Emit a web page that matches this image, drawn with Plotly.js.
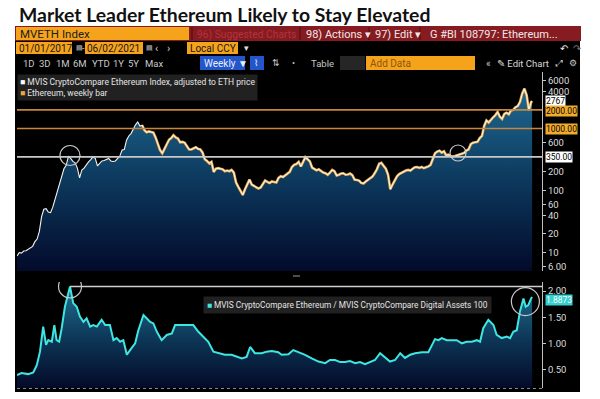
<!DOCTYPE html>
<html><head><meta charset="utf-8">
<script src="https://cdn.plot.ly/plotly-3.0.1.min.js"></script>
<style>html,body{margin:0;padding:0;background:#fff}#chart{width:600px;height:399px}</style>
</head><body><div id="chart"></div>
<script>
// ---------------- DATA ----------------
const startDate = '2017-01-01';
const lastDate = '2021-06-02';
const axisEnd = '2021-07-03';
const weeklyBarStart = '2018-01-28';

// MVIS CryptoCompare Ethereum Index (adjusted to ETH price), weekly, from 2017-01-01
const eth2017 = [8.8,10.0,9.8,10.6,10.7,11.4,12.0,12.6,15.0,16.5,22,38,50,51,45,44,54,72,92,125,168,225,255,355,330,295,280,230,160,215,230,262,290,315,350,330,250,275,300,305,320,330,300,295,300,330,360,450,460,650,760,830,980];
const eth2018 = [1150,1280,1100,1130,940,870,900,880,860,720,560,450,400,470,540,660,700,780,720,690,600,610,590,520,460,460,480,500,470,460,410,320,300,275,290,200,225,230,225,220,205,210,205,215,195,135,115,100,85,105,128,150];
const eth2019 = [125,118,115,108,112,125,145,138,132,140,138,135,160,170,165,175,185,200,240,260,268,290,245,300,345,320,295,235,225,212,220,205,195,190,180,195,215,205,175,180,188,190,180,182,188,178,150,148,145,133,130,140];
const eth2020 = [148,158,168,190,220,270,280,250,225,180,105,125,150,170,185,195,205,210,215,210,225,238,240,232,240,230,238,245,260,320,400,425,440,410,430,370,380,360,355,360,370,380,395,405,440,460,560,590,600,610,700,760];
const eth2021 = [1100,1350,1250,1400,1520,1650,1850,1550,1430,1720,1800,1700,1960,2000,2210,2300,2670,3650,4400,3430,1960,2670];
const lastClose = 2767;

// Horizontal reference levels
const levels = [2000, 1000, 350];
const levelLabels = ['2000.00', '1000.00', '350.00'];

// MVIS CryptoCompare Ethereum / MVIS CryptoCompare Digital Assets 100
const ratioDates = ['2017-01-01','2017-01-15','2017-02-05','2017-02-21','2017-03-04','2017-03-14','2017-03-24','2017-04-02','2017-04-09','2017-04-20','2017-04-28','2017-05-05','2017-05-13','2017-05-21','2017-05-31','2017-06-16','2017-06-26','2017-07-07','2017-07-17','2017-07-28','2017-08-07','2017-08-18','2017-08-28','2017-09-08','2017-09-23','2017-10-04','2017-10-19','2017-10-30','2017-11-09','2017-11-20','2017-11-30','2017-12-11','2017-12-21',
'2018-01-06','2018-01-16','2018-02-01','2018-02-11','2018-02-22','2018-03-04','2018-03-15','2018-03-30','2018-04-15','2018-05-01','2018-05-11','2018-05-27','2018-06-17','2018-07-07','2018-07-23','2018-08-08','2018-08-23','2018-09-08','2018-09-23','2018-10-14','2018-11-04','2018-11-20','2018-12-06','2018-12-21',
'2019-01-01','2019-01-16','2019-02-06','2019-02-22','2019-03-10','2019-03-30','2019-04-10','2019-05-01','2019-05-16','2019-06-01','2019-06-22','2019-07-13','2019-08-03','2019-08-24','2019-09-08','2019-09-24','2019-10-10','2019-10-25','2019-11-10','2019-11-26','2019-12-11','2019-12-27',
'2020-01-12','2020-01-27','2020-02-12','2020-02-28','2020-03-14','2020-03-30','2020-04-15','2020-04-30','2020-05-16','2020-06-01','2020-06-22','2020-07-12','2020-07-23','2020-08-02','2020-08-13','2020-08-23','2020-09-08','2020-09-23','2020-10-09','2020-10-25','2020-11-09','2020-11-25','2020-12-11','2020-12-21','2020-12-31',
'2021-01-16','2021-02-01','2021-02-11','2021-02-27','2021-03-15','2021-03-25','2021-04-04','2021-04-15','2021-04-25','2021-05-06','2021-05-13','2021-05-21','2021-05-30','2021-06-02'];
const ratioValues = [0.39,0.43,0.41,0.44,0.58,0.84,1.32,0.97,1.06,1.03,1.35,1.06,1.03,1.29,1.70,2.09,1.77,1.70,1.51,1.41,1.48,1.32,1.35,1.32,1.45,1.35,1.35,1.06,1.10,1.03,1.06,0.78,0.87,
1.00,1.25,1.54,1.48,1.41,1.38,1.22,1.06,1.16,1.19,1.35,1.35,1.35,1.35,1.22,1.13,1.03,0.84,0.81,0.78,0.78,0.74,0.71,0.74,
0.93,0.81,0.81,0.84,0.85,0.83,0.78,0.79,0.87,0.83,0.78,0.71,0.65,0.62,0.68,0.68,0.64,0.64,0.66,0.62,0.64,0.60,
0.64,0.68,0.81,0.72,0.65,0.68,0.81,0.72,0.78,0.81,0.83,0.83,0.97,1.08,1.06,1.10,1.06,1.06,1.06,1.00,1.03,1.03,1.06,1.03,1.29,
1.45,1.35,1.16,1.10,1.13,1.10,1.22,1.25,1.61,1.86,1.70,1.73,1.86,1.8873];

const yTicks = [6,10,20,40,60,100,200,600,4000,6000];
const yTickText = ['6.00','10','20','40','60','100','200','600','4000','6000'];
const y2Ticks = [0.5,1,1.5,2];
const y2TickText = ['0.50','1.00','1.50','2.00'];

// Highlighted points in the ratio panel (circled)
const ratioCircles = [{date: '2017-06-16', value: 2.09}, {date: '2021-05-12', value: 1.80}];

// ---------------- BUILD ----------------
const W = 600, H = 399;
const px = x => x / W, py = y => 1 - y / H;
const NARROW = '"Liberation Sans Narrow", "Arial Narrow", Roboto, sans-serif';

const ethValues = [].concat(eth2017, eth2018, eth2019, eth2020, eth2021, [lastClose]);
const ethDates = [];
const t0 = Date.UTC(2017, 0, 1);
for (let k = 0; k < ethValues.length - 1; k++) {
  ethDates.push(new Date(t0 + k * 7 * 86400000).toISOString().slice(0, 10));
}
ethDates.push(lastDate);
const barDates = [], barValues = [];
ethDates.forEach((d, i) => { if (d >= weeklyBarStart) { barDates.push(d); barValues.push(ethValues[i]); } });

let peakIdx = 0;
ratioValues.forEach((v, i) => { if (v > ratioValues[peakIdx]) peakIdx = i; });

const traces = [];
traces.push({x: ethDates, y: ethValues, type: 'scatter', mode: 'lines', fill: 'tozeroy',
  line: {width: 0, color: 'rgba(0,0,0,0)'},
  fillgradient: {type: 'vertical', start: 5, stop: 4500,
    colorscale: [[0, '#030a2a'], [0.45, '#0b3458'], [1, '#1f6a93']]},
  xaxis: 'x', yaxis: 'y', hoverinfo: 'skip'});
traces.push({x: barDates, y: barValues, type: 'scatter', mode: 'lines',
  line: {width: 2.6, color: '#e9a53c'}, xaxis: 'x', yaxis: 'y', hoverinfo: 'skip'});
traces.push({x: ethDates, y: ethValues, type: 'scatter', mode: 'lines',
  line: {width: 1.1, color: '#f4f4f0'}, xaxis: 'x', yaxis: 'y', hoverinfo: 'skip'});
const levelColors = ['#c9863a', '#c9863a', '#c8c8c8'];
levels.forEach((lv, i) => traces.push({x: [startDate, axisEnd], y: [lv, lv], type: 'scatter', mode: 'lines',
  line: {width: 1.6, color: levelColors[i]}, xaxis: 'x', yaxis: 'y', hoverinfo: 'skip'}));

traces.push({x: ratioDates, y: ratioValues, type: 'scatter', mode: 'lines', fill: 'tozeroy',
  line: {width: 2, color: '#3ee6e2'},
  fillgradient: {type: 'vertical', start: 0.15, stop: 2.0,
    colorscale: [[0, '#030a28'], [0.5, '#0d3656'], [1, '#1f6a8c']]},
  xaxis: 'x2', yaxis: 'y2', hoverinfo: 'skip'});
traces.push({x: [ratioDates[peakIdx], axisEnd], y: [ratioValues[peakIdx], ratioValues[peakIdx]], type: 'scatter', mode: 'lines',
  line: {width: 1.5, color: '#cfcfcf'}, xaxis: 'x2', yaxis: 'y2', hoverinfo: 'skip'});

// ---------------- LAYOUT DECOR ----------------
const shapes = [];
const ann = [];
function rect(x0, y0, x1, y1, color, layer) {
  shapes.push({type: 'rect', xref: 'paper', yref: 'paper', x0: px(x0), x1: px(x1), y0: py(y1), y1: py(y0),
    fillcolor: color, line: {width: 0}, layer: layer || 'below'});
}
function txt(x, y, text, size, color, opts) {
  ann.push(Object.assign({xref: 'paper', yref: 'paper', x: px(x), y: py(y), text: text, showarrow: false,
    xanchor: 'left', yanchor: 'middle', font: {family: NARROW, size: size, color: color}}, opts || {}));
}
function circlePaper(cx, cy, r) {
  shapes.push({type: 'circle', xref: 'paper', yref: 'paper', x0: px(cx - r), x1: px(cx + r), y0: py(cy + r), y1: py(cy - r),
    line: {color: '#c8c8c8', width: 1.2}, layer: 'above'});
}
function circleAt(xr, yr, pt, r) {
  shapes.push({type: 'circle', xref: xr, yref: yr, xsizemode: 'pixel', ysizemode: 'pixel',
    xanchor: pt.date, yanchor: pt.value, x0: -r, x1: r, y0: -r, y1: r,
    line: {color: '#c8c8c8', width: 1.2}, layer: 'above'});
}

// black terminal frame
rect(15, 41, 580, 392, '#000000');
// row 1
rect(15, 26, 581, 41, '#861b21');
rect(16, 27, 189, 40, '#f6a31c');
[192, 300, 369, 420].forEach(x => shapes.push({type: 'line', xref: 'paper', yref: 'paper', x0: px(x), x1: px(x), y0: py(27), y1: py(40), line: {color: '#4a0d10', width: 1}, layer: 'below'}));
txt(18, 34, 'MVETH Index', 11.5, '#1b1b1b');
txt(195, 34, '96) Suggested Charts', 10.3, '#b3343c');
txt(304, 34, '98) Actions ▾', 11, '#f3e7e7');
txt(373, 34, '97) Edit ▾', 11, '#f3e7e7');
txt(428, 34, 'G #BI 108797: Ethereum...', 11, '#f3e7e7');
// row 2
rect(16, 42, 72, 54, '#f6a31c');
rect(85, 42, 143, 54, '#f6a31c');
rect(187, 42, 238, 54, '#f6a31c');
txt(16.5, 48, '01/01/2017', 10, '#151515');
txt(85.5, 48, '06/02/2021', 10, '#151515');
txt(188, 48, 'Local CCY', 10, '#151515');
txt(73.5, 48, '▤', 7, '#cfcfcf');
txt(80, 48, '-', 9, '#cfcfcf');
txt(144, 48, '▤', 7, '#cfcfcf');
txt(153, 48, '‹', 11, '#cfcfcf');
txt(165, 48, '›', 11, '#cfcfcf');
txt(242, 48, '▾', 9, '#e0e0e0');
txt(558, 48, '↶', 10, '#e8e8e8');
txt(571, 48, '↷', 10, '#777777');
// row 3
[['1D', 21], ['3D', 37], ['1M', 54], ['6M', 71], ['YTD', 90], ['1Y', 111], ['5Y', 126], ['Max', 143]].forEach(b => txt(b[1], 63, b[0], 9.5, '#c8c8c8'));
rect(200, 56, 245, 70, '#2356c9');
txt(202, 63, 'Weekly ▼', 10, '#e8eeff');
rect(250, 56, 264, 70, '#2356c9');
txt(251.5, 63, '⌇', 9, '#e8eeff');
txt(270, 63, '⇅', 9, '#c8c8c8');
txt(290, 63, '•', 9, '#c8c8c8');
txt(309, 63, 'Table', 9.5, '#c8c8c8');
rect(340, 56, 365, 70, '#262626');
rect(366, 56, 475, 70, '#f6a31c');
txt(368, 63, 'Add Data', 10, '#8a5510');
txt(484, 63, '«', 10, '#c8c8c8');
txt(495, 63, '✎ Edit Chart', 9.5, '#d8d8d8');
txt(553, 63, '⤢', 9, '#c8c8c8');
txt(567, 63, '⚙', 9, '#c8c8c8');

// title
ann.push({xref: 'paper', yref: 'paper', x: px(17), y: py(14), xanchor: 'left', yanchor: 'middle', showarrow: false,
  text: '<b>Market Leader Ethereum Likely to Stay Elevated</b>', font: {family: 'Lato, "Open Sans", sans-serif', size: 19.4, color: '#111111'}});

// legends
ann.push({xref: 'paper', yref: 'paper', x: px(17), y: py(74), xanchor: 'left', yanchor: 'top', showarrow: false, align: 'left',
  bgcolor: 'rgba(36,36,36,0.92)', borderpad: 2,
  text: '<span style="color:#ffffff">■</span> MVIS CryptoCompare Ethereum Index, adjusted to ETH price<br><span style="color:#f0a830">■</span> Ethereum, weekly bar',
  font: {family: NARROW, size: 8.5, color: '#e4e4e4'}});
ann.push({xref: 'paper', yref: 'paper', x: px(203), y: py(305), xanchor: 'left', yanchor: 'middle', showarrow: false, align: 'left',
  bgcolor: 'rgba(36,36,36,0.92)', borderpad: 3,
  text: '<span style="color:#3ee6e2">■</span> MVIS CryptoCompare Ethereum / MVIS CryptoCompare Digital Assets 100',
  font: {family: NARROW, size: 8.3, color: '#e4e4e4'}});

// value labels on right axis
function axLabel(yref, yval, text, bg, fg, shift) {
  ann.push({xref: 'paper', yref: yref, x: px(545), y: yval, xanchor: 'left', yanchor: 'middle', showarrow: false,
    yshift: shift || 0, text: text, bgcolor: bg, borderpad: 0, font: {family: NARROW, size: 8.5, color: fg}});
}
axLabel('y', Math.log10(lastClose), String(lastClose), '#ffffff', '#000000', 0.5);
levels.forEach((lv, i) => axLabel('y', Math.log10(lv), levelLabels[i], i < 2 ? '#f2ab2a' : '#ffffff', '#000000', i === 0 ? -1.5 : 0));
axLabel('y2', ratioValues[ratioValues.length - 1], String(ratioValues[ratioValues.length - 1]), '#36cfcf', '#f4ffff', -3.5);

// circles around the highlighted points
circlePaper(70, 155.5, 10);
circlePaper(458, 153, 8);
ratioCircles.forEach((p, i) => circleAt('x2', 'y2', p, i === 0 ? 11.5 : 14));

// bottom dotted axis and separator
shapes.push({type: 'line', xref: 'paper', yref: 'paper', x0: px(17), x1: px(542), y0: py(388.5), y1: py(388.5), line: {color: '#8a8a8a', width: 1, dash: 'dot'}, layer: 'above'});
shapes.push({type: 'line', xref: 'paper', yref: 'paper', x0: px(293), x1: px(300), y0: py(276), y1: py(276), line: {color: '#9a9a9a', width: 1}, layer: 'above'});

const xCommon = {type: 'date', range: [startDate, axisEnd], showticklabels: false, showgrid: false, zeroline: false,
  showline: false, ticks: '', fixedrange: true};
const layout = {
  width: W, height: H, margin: {l: 0, r: 0, t: 0, b: 0},
  paper_bgcolor: '#ffffff', plot_bgcolor: 'rgba(0,0,0,0)',
  showlegend: false, hovermode: false,
  xaxis: Object.assign({}, xCommon, {domain: [px(17), px(542)], anchor: 'y'}),
  xaxis2: Object.assign({}, xCommon, {domain: [px(17), px(542)], anchor: 'y2'}),
  yaxis: {domain: [py(271), py(72)], type: 'log', range: [0.703, 3.912], side: 'right', anchor: 'x',
    showgrid: false, zeroline: false, showline: true, linecolor: '#c0c0c0', linewidth: 1,
    ticks: 'outside', ticklen: 3, tickcolor: '#c8c8c8', tickvals: yTicks, ticktext: yTickText,
    tickfont: {family: NARROW, size: 9.5, color: '#dcdcdc'}, fixedrange: true},
  yaxis2: {domain: [py(388), py(282)], range: [0.144, 2.174], side: 'right', anchor: 'x2',
    showgrid: false, zeroline: false, showline: true, linecolor: '#c0c0c0', linewidth: 1,
    ticks: 'outside', ticklen: 3, tickcolor: '#c8c8c8', tickvals: y2Ticks, ticktext: y2TickText,
    tickfont: {family: NARROW, size: 9.5, color: '#dcdcdc'}, fixedrange: true},
  shapes: shapes, annotations: ann
};
Plotly.newPlot('chart', traces, layout, {displayModeBar: false, staticPlot: true});
</script></body></html>
